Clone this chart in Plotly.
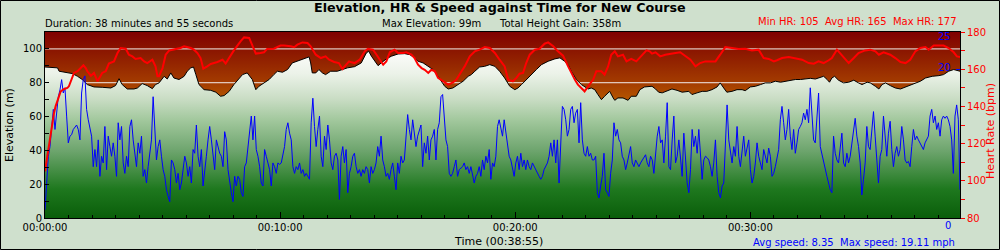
import numpy as np
import pandas as pd
import plotly.graph_objects as go

# ---------------- data ----------------
DURATION_S = 2335  # 00:38:55

ELEV_T = [0, 32, 36, 53, 70, 83, 95, 108, 125, 146, 168, 180, 189, 197, 210, 227, 236, 248, 261, 274,
          282, 291, 304, 312, 321, 329, 342, 355, 363, 372, 379, 385, 393, 406, 423, 436, 448, 457, 470, 482,
          495, 504, 516, 529, 538, 546, 559, 572, 584, 593, 606, 619, 631, 644, 661, 674, 678, 682, 691, 699,
          708, 716, 729, 746, 759, 772,
          790, 807, 820, 826, 833, 841, 850, 858, 871, 884, 901, 918, 931, 943, 952, 965, 978, 990, 1003, 1012,
          1020, 1029, 1041, 1054, 1067, 1080, 1088, 1097, 1109, 1122, 1135, 1148, 1160, 1173, 1186, 1199, 1207, 1216, 1228, 1241,
          1254, 1267, 1284, 1301, 1314, 1326, 1335, 1343, 1356, 1369, 1386, 1394, 1403, 1411, 1420, 1428, 1441, 1450, 1454, 1462,
          1475, 1488, 1496, 1509, 1518, 1530, 1543,
          1549, 1558, 1566, 1575, 1587, 1600, 1613, 1626, 1643, 1651, 1664, 1677, 1689, 1702, 1715, 1723, 1732, 1740, 1753, 1766,
          1779, 1787, 1800, 1813, 1826, 1838, 1851, 1864, 1877, 1889, 1902, 1915, 1928, 1940, 1953, 1966, 1979, 1987, 1996, 2002,
          2008, 2015, 2025, 2038, 2051, 2064, 2076, 2085, 2098, 2106, 2119, 2128, 2136, 2145, 2157, 2170, 2183, 2196, 2208, 2221,
          2234, 2247, 2264, 2281, 2293, 2306, 2319, 2335]
ELEV = [89.3, 88.8, 86.8, 86.2, 85.4, 83.8, 81.9, 78.9, 77.5, 77.3, 76.9, 78.3, 82.4, 78.9, 76.3, 76.3, 76.9, 79.5, 78.3, 76.5,
        78.9, 79.9, 83.8, 82.2, 85.8, 82.8, 81.9, 83.8, 86.8, 88.8, 89.3, 84.8, 78.9, 75.9, 75.5, 74.4, 72.0, 72.4, 74.9, 78.9,
        82.8, 84.8, 85.8, 81.9, 75.9, 77.9, 79.9, 81.9, 84.8, 86.8, 86.2, 87.8, 91.7, 92.7, 94.1, 95.3, 91.7, 85.8, 85.8, 87.8,
        85.8, 84.8, 86.8, 86.8, 87.8, 88.8,
        89.5, 91.7, 97.6, 98.6, 95.7, 92.7, 90.1, 91.7, 94.1, 95.7, 97.0, 97.2, 96.6, 94.7, 92.7, 91.7, 89.7, 87.8, 83.8, 80.9,
        77.9, 76.3, 76.9, 78.9, 80.9, 83.8, 84.8, 86.8, 89.3, 89.7, 90.7, 89.7, 86.8, 82.8, 77.9, 75.9, 76.9, 78.9, 81.9, 84.8,
        87.8, 90.7, 92.7, 94.1, 94.7, 92.7, 90.7, 86.8, 81.9, 78.9, 76.3, 76.9, 75.9, 73.0, 70.0, 72.0, 74.9, 71.0, 69.6, 71.0,
        71.0, 69.6, 72.0, 72.0, 75.9, 77.5, 77.9,
        77.9, 76.3, 74.4, 74.0, 74.9, 76.3, 75.5, 74.4, 74.9, 73.0, 74.0, 74.9, 74.9, 75.9, 77.5, 79.9, 76.9, 74.4, 74.9, 75.9,
        75.9, 75.3, 77.5, 77.9, 78.9, 79.9, 79.9, 80.9, 80.3, 80.9, 81.5, 81.9, 81.9, 82.2, 82.6, 82.2, 83.2, 83.8, 81.9, 80.3,
        82.8, 83.8, 81.5, 79.9, 80.3, 81.5, 79.9, 78.9, 80.3, 79.9, 77.9, 76.3, 78.9, 79.9, 78.3, 76.9, 76.3, 77.5, 78.9, 79.9,
        80.9, 82.8, 83.8, 84.2, 84.8, 86.8, 87.8, 86.8]

HR_T = [0, 2, 6, 10, 15, 19, 23, 27, 32, 36, 40, 49, 57, 61, 66, 70, 74, 83, 91, 98,
        104, 108, 117, 125, 134, 138, 146, 155, 163, 176, 185, 193, 206, 214, 223, 231, 244, 253, 261, 274,
        282, 287, 291, 300, 308, 317, 329, 346, 355, 372, 380, 389, 397, 404, 414, 423, 440, 453, 461, 470,
        482, 499, 508, 521, 529, 538, 550, 559, 567, 584, 601, 610, 627, 636, 644, 657, 670, 678, 691, 704,
        716, 725, 738, 750, 759, 767, 776,
        782, 790, 803, 816, 824, 837, 846, 854, 863, 871, 880, 892, 901, 914, 922, 935, 943, 952, 961, 969,
        978, 986, 995, 1003, 1016, 1029, 1041, 1050, 1063, 1071, 1084, 1097, 1109, 1122, 1135, 1148, 1160, 1173, 1182, 1194,
        1203, 1211, 1220, 1228, 1237, 1250, 1262, 1275, 1284, 1297, 1309, 1322, 1335, 1343, 1352, 1360, 1369, 1377, 1386, 1399,
        1407, 1420, 1428, 1437, 1445, 1454, 1462, 1475, 1484, 1496, 1509, 1522, 1535, 1543,
        1549, 1558, 1570, 1583, 1596, 1609, 1621, 1634, 1647, 1660, 1672, 1685, 1698, 1711, 1723, 1736, 1753, 1770, 1787, 1804,
        1821, 1834, 1847, 1860, 1868, 1881, 1898, 1915, 1932, 1949, 1962, 1974, 1987, 2000, 2008, 2021, 2030, 2038, 2051, 2064,
        2076, 2093, 2106, 2119, 2128, 2140, 2157, 2170, 2183, 2196, 2208, 2221, 2234, 2247, 2255, 2268, 2281, 2293, 2306, 2319,
        2327, 2335]
HR = [105.1, 107.8, 113.2, 120.3, 127.5, 132.9, 136.5, 140.0, 143.6, 146.3, 148.1, 149.4, 149.9, 150.8, 153.5, 156.2, 158.0, 158.9, 160.6, 162.1,
      160.6, 158.9, 156.5, 158.0, 153.5, 155.3, 158.0, 158.9, 163.0, 164.2, 168.7, 171.4, 171.0, 167.8, 166.9, 165.5, 166.0, 164.2, 163.3, 165.1,
      161.5, 156.2, 156.2, 160.6, 167.8, 170.1, 170.5, 171.4, 172.3, 171.4, 170.5, 168.7, 166.0, 160.3, 161.5, 162.8, 163.9, 165.1, 163.0, 166.0,
      170.1, 175.0, 177.1, 176.8, 172.3, 168.4, 168.7, 169.1, 170.9, 171.0, 172.7, 172.8, 172.3, 171.8, 173.2, 174.4, 174.1, 172.3, 167.8, 166.0,
      166.9, 165.1, 163.9, 163.3, 160.1, 161.9, 164.2,
      163.7, 163.3, 165.1, 169.6, 171.0, 170.5, 167.8, 165.1, 162.4, 164.2, 169.1, 170.5, 168.7, 168.7, 169.1, 167.8, 166.0, 162.4, 160.6, 159.7,
      158.0, 159.7, 158.9, 155.3, 153.5, 151.7, 152.9, 154.4, 158.9, 161.5, 166.9, 169.6, 170.5, 171.9, 171.4, 168.7, 165.1, 161.5, 154.4, 153.5,
      155.3, 157.6, 158.0, 163.3, 167.8, 170.5, 171.0, 173.7, 174.4, 172.3, 169.6, 167.3, 161.5, 158.0, 154.4, 151.7, 149.9, 148.1, 150.8, 154.4,
      158.9, 158.9, 157.1, 161.5, 167.8, 169.6, 166.9, 167.8, 164.2, 165.5, 164.2, 166.9, 170.1, 169.6,
      168.4, 169.1, 166.9, 167.8, 168.4, 168.7, 169.1, 166.9, 165.1, 161.5, 163.3, 164.2, 164.2, 164.2, 167.8, 171.9, 171.4, 170.9, 171.0, 170.1,
      170.5, 166.0, 165.5, 164.2, 164.8, 166.0, 166.6, 166.0, 165.1, 163.3, 163.0, 164.2, 163.3, 164.8, 166.0, 170.5, 168.4, 166.0, 163.3, 166.0,
      168.7, 170.1, 170.5, 169.6, 167.8, 169.1, 167.8, 166.0, 163.9, 163.3, 165.1, 169.6, 171.4, 171.9, 170.5, 172.7, 172.8, 172.7, 171.4, 169.1,
      166.9, 166.6]

# speed in mph, samples evenly spaced over the whole duration
SPEED = [
    1.1, 4.3, 8.3, 9.6, 11.9, 14.6, 11.9, 13.7, 16.3, 17.2,
    18.6, 16.8, 17.5, 13.7, 10.1, 11.0, 11.2, 11.9, 12.3, 12.5,
    11.9, 10.5, 16.8, 18.6, 19.1, 14.6, 13.2, 11.9, 11.0, 6.9,
    9.2, 6.9, 10.5, 5.6, 8.3, 7.4, 12.3, 6.5, 11.0, 9.6,
    8.3, 10.1, 8.3, 5.6, 12.8, 10.5, 12.3, 7.4, 6.0, 8.3,
    6.9, 12.3, 13.2, 10.5, 8.7, 6.9, 10.1, 8.7, 11.0, 5.6,
    6.5, 4.7, 6.9, 8.7, 10.5, 16.3, 11.9, 7.8, 9.6, 10.5,
    8.3, 6.5, 5.6, 3.8, 2.9, 2.2, 7.8, 7.4, 6.5, 4.7,
    6.0, 3.8, 4.7, 6.5, 8.3, 7.4, 5.6, 6.9, 4.7, 9.2,
    8.7, 12.5, 8.3, 6.9, 9.2, 4.3, 6.0, 8.3, 10.5, 12.3,
    10.5, 8.3, 6.5, 10.5, 9.6, 8.7, 8.3, 6.9, 11.6, 10.5,
    6.5, 4.7, 3.4, 2.2, 5.6, 4.3, 5.6, 5.2, 3.4, 2.9,
    6.9, 7.4, 9.6, 11.9, 13.7, 10.5, 13.7, 9.2, 8.3, 6.9,
    4.7, 4.3, 9.2, 8.3, 7.4, 6.5, 4.3, 7.4, 6.9, 6.0,
    7.4, 7.2, 7.4, 8.3, 9.6, 11.9, 12.8, 11.4, 10.5, 6.9,
    6.0, 6.9, 6.5, 7.4, 6.0, 6.5, 5.6, 6.0, 5.6, 5.2,
    12.8, 16.1, 12.3, 9.6, 11.9, 13.7, 8.3, 6.9, 11.0, 9.2,
    12.5, 10.5, 7.4, 6.5, 8.3, 8.7, 7.8, 2.5, 8.3, 9.6,
    7.4, 9.2, 3.4, 6.0,
    6.9, 8.3, 8.7, 6.9, 6.0, 6.5, 5.6, 6.5, 6.0, 6.9,
    6.5, 4.7, 6.9, 6.0, 6.5, 7.4, 9.6, 8.3, 11.0, 7.8,
    6.9, 5.6, 6.0, 5.2, 6.5, 7.4, 5.6, 3.8, 7.4, 6.0,
    8.3, 7.4, 7.8, 10.5, 13.9, 11.9, 10.5, 13.2, 11.0, 9.6,
    11.0, 11.9, 12.5, 6.9, 10.1, 8.7, 11.0, 7.8, 10.5, 11.0,
    11.9, 7.8, 11.9, 12.8, 16.3, 16.6, 13.2, 10.5, 9.6, 6.0,
    5.6, 6.0, 6.9, 7.8, 5.6, 6.5, 6.7, 6.9, 7.4, 6.5,
    6.9, 6.0, 6.9, 6.0, 4.7, 5.6, 6.0, 6.9, 5.6, 7.8,
    6.5, 8.3, 7.4, 9.2, 5.2, 7.4, 6.9, 8.3, 12.3, 13.2,
    11.9, 11.0, 13.2, 11.4, 9.6, 8.3, 7.8, 6.9, 5.6, 7.4,
    8.3, 6.5, 8.7, 6.9, 7.8, 6.5, 7.8, 6.9, 6.5, 7.4,
    6.9, 6.5, 6.0, 5.6, 5.2, 5.6, 6.5, 6.9, 7.4, 8.3,
    10.1, 8.3, 10.5, 7.4, 10.5, 4.7, 11.0, 15.0, 14.6, 13.2,
    11.0, 11.9, 14.6, 15.0, 12.8, 14.1, 14.6, 10.1, 15.5, 10.5,
    8.7, 8.3, 9.6, 8.3, 8.7, 7.8, 7.8, 8.3, 3.4, 2.7,
    4.3, 5.6, 8.7, 3.8, 3.4, 2.9, 6.0, 7.8, 12.8, 11.0,
    11.9, 10.5, 10.1, 8.3, 7.8, 6.5, 7.4, 8.3, 9.6, 7.4,
    6.9, 7.8, 7.4, 6.9, 7.4, 7.8, 8.3, 8.5, 7.4, 6.9,
    8.3, 7.8, 6.0,
    9.2, 11.0, 12.3, 10.1, 10.5, 7.4, 11.0, 15.5, 6.9, 6.5,
    10.5, 13.7, 7.4, 8.3, 10.5, 8.3, 5.6, 11.4, 8.3, 4.7,
    3.4, 6.5, 11.9, 9.6, 11.0, 8.7, 11.9, 8.3, 5.2, 7.8,
    8.3, 8.1, 7.8, 6.9, 5.6, 7.4, 10.5, 5.6, 3.4, 2.7,
    4.3, 4.7, 10.5, 15.2, 10.5, 8.7, 7.4, 9.6, 8.3, 12.3,
    8.3, 6.9, 9.2, 11.0, 8.3, 9.6, 10.5, 6.5, 4.7, 5.6,
    7.4, 10.1, 8.3, 7.4, 6.5, 9.2, 8.3, 7.4, 9.4, 8.3,
    5.6, 6.0, 6.9, 8.3, 9.2, 13.2, 15.0, 12.8, 10.5, 11.9,
    14.6, 11.0, 9.2, 11.9, 8.7, 10.1, 11.9, 12.3, 12.8, 14.1,
    13.2, 14.6, 12.8, 17.5, 14.6, 10.5, 10.1, 13.7, 16.8, 9.6,
    8.7, 7.4, 6.5, 5.6, 4.7, 3.8, 3.4, 11.0, 8.7, 7.8,
    7.4, 9.6, 11.4, 7.4, 6.9, 8.7, 7.4, 8.3, 10.1, 11.9,
    13.4, 11.0, 9.6, 7.4, 3.1, 5.2, 7.4, 12.3, 9.6, 9.2,
    12.3, 14.3, 11.0, 7.4, 4.7, 8.3, 9.2, 13.7, 10.5, 8.3,
    11.4, 13.0, 9.2, 6.9, 8.7, 9.6, 8.3, 9.2, 12.3, 10.5,
    7.8, 7.4, 7.6, 6.9, 9.6, 11.9, 10.5, 11.0, 10.5, 10.1,
    9.6, 9.2, 10.1, 10.5, 11.0, 13.7, 14.6, 12.8, 13.7, 11.9,
    12.8, 11.0, 13.2, 13.7, 13.4, 13.7, 13.2, 12.3, 10.5, 6.0,
    13.7, 15.2, 13.2, 3.8,
]
SPEED_INTERVAL_S = DURATION_S / (len(SPEED) - 1)

ELEV_RANGE = [0, 110]
HR_RANGE = [80, 180]
SPEED_RANGE = [0, 25]
ELEV_TICKS = [0, 20, 40, 60, 80, 100]
SPEED_TICKS = [0, 20, 25]

TITLE = "Elevation, HR & Speed against Time for New Course"
DURATION_TXT = "Duration: 38 minutes and 55 seconds"
MAXELEV_TXT = "Max Elevation: 99m"
GAIN_TXT = "Total Height Gain: 358m"
HR_TXT = "Min HR: 105\u00a0\u00a0Avg HR: 165\u00a0\u00a0Max HR: 177"
SPEED_TXT = "Avg speed: 8.35\u00a0\u00a0Max speed: 19.11 mph"
XTITLE = "Time (00:38:55)"

# ---------------- styling ----------------
FONT = "DejaVu Sans"
BG = "#cfe0cd"
BROWN_SCALE = [[0.0, "#c87000"], [0.636, "#b45500"], [0.727, "#a43c00"],
               [0.818, "#962800"], [0.909, "#8a1400"], [1.0, "#800000"]]
GREEN_SCALE = [[0.0, "#0a5e0a"], [0.17, "#1e781e"], [0.4, "#6ea56e"], [0.58, "#a2c89d"],
               [0.7, "#c8dcc3"], [0.85, "#ebf2e8"], [0.95, "#f8faf6"], [1.0, "#ffffff"]]

W, H = 1000, 250
ML, MR, MT, MB = 45, 40, 32, 32
PW, PH = W - ML - MR, H - MT - MB

T0 = pd.Timestamp("1970-01-01")


def ts(seconds):
    return T0 + pd.to_timedelta(np.asarray(seconds, dtype=float), unit="s")


def px(x):
    return (x - ML) / PW


def py(y):
    return (H - MB - y) / PH


span = ts([0, DURATION_S])
speed_t = ts(np.arange(len(SPEED)) * SPEED_INTERVAL_S)

fig = go.Figure()

# brown sky (area above the profile)
fig.add_trace(go.Scatter(
    x=span, y=[ELEV_RANGE[1]] * 2, mode="lines", line=dict(width=0),
    fill="tozeroy", fillgradient=dict(type="vertical", colorscale=BROWN_SCALE,
                                      start=ELEV_RANGE[0], stop=ELEV_RANGE[1]),
    hoverinfo="skip", showlegend=False))

# grid lines (only visible above the elevation fill)
for v in ELEV_TICKS[1:]:
    fig.add_trace(go.Scatter(x=span, y=[v, v], mode="lines",
                             line=dict(color="#f2eeec", width=1),
                             hoverinfo="skip", showlegend=False))

# elevation
fig.add_trace(go.Scatter(
    x=ts(ELEV_T), y=ELEV, mode="lines", line=dict(color="black", width=1),
    fill="tozeroy", fillgradient=dict(type="vertical", colorscale=GREEN_SCALE, start=0, stop=100),
    showlegend=False))

# speed
fig.add_trace(go.Scatter(x=speed_t, y=SPEED, mode="lines", yaxis="y2",
                         line=dict(color="#0000ff", width=1), showlegend=False))

# heart rate
fig.add_trace(go.Scatter(x=ts(HR_T), y=HR, mode="lines", yaxis="y3",
                         line=dict(color="#ff0000", width=2), showlegend=False))

tickfont = dict(family=FONT, size=10, color="black")

fig.update_layout(
    width=W, height=H,
    margin=dict(l=ML, r=MR, t=MT, b=MB, pad=0),
    paper_bgcolor=BG, plot_bgcolor=BG,
    font=dict(family=FONT, size=10, color="black"),
    xaxis=dict(type="date", range=[span[0], span[1]], tickmode="linear", tick0=span[0],
               dtick=600000, tickformat="%H:%M:%S", ticks="inside", ticklen=6,
               tickcolor="black", showline=True, linecolor="black", linewidth=1, mirror=True,
               showgrid=False, zeroline=False, tickfont=tickfont,
               minor=dict(dtick=60000, ticks="inside", ticklen=3, tickcolor="black", showgrid=False)),
    yaxis=dict(range=ELEV_RANGE, tickmode="array", tickvals=ELEV_TICKS, ticks="inside",
               ticklen=4, tickcolor="black", showline=True, linecolor="black", linewidth=1,
               mirror=True, showgrid=False, zeroline=False, tickfont=tickfont,
               minor=dict(dtick=10, tick0=0, ticks="inside", ticklen=4, tickcolor="black", showgrid=False)),
    yaxis2=dict(overlaying="y", side="right", anchor="x", range=SPEED_RANGE,
                tickmode="array", tickvals=SPEED_TICKS, ticks="inside", ticklen=4,
                tickcolor="#0000ff", showticklabels=False, showgrid=False,
                zeroline=False, showline=False),
    yaxis3=dict(overlaying="y", side="right", anchor="x", range=HR_RANGE,
                tickmode="linear", tick0=80, dtick=20, ticks="outside", ticklen=4,
                tickcolor="#ff0000", showgrid=False, zeroline=False, showline=False,
                tickfont=dict(family=FONT, size=10, color="#ff0000"),
                minor=dict(dtick=10, ticks="outside", ticklen=4, tickcolor="#ff0000", showgrid=False)),
)

ann = [
    dict(text=f"<b>{TITLE}</b>", x=px(500), y=py(8), xanchor="center", yanchor="middle",
         font=dict(family=FONT, size=12.7, color="black")),
    dict(text=DURATION_TXT, x=px(43), y=py(23.5), xanchor="left", yanchor="middle",
         font=dict(family=FONT, size=10, color="black")),
    dict(text=MAXELEV_TXT, x=px(380), y=py(23.5), xanchor="left", yanchor="middle",
         font=dict(family=FONT, size=10, color="black")),
    dict(text=GAIN_TXT, x=px(497), y=py(23.5), xanchor="left", yanchor="middle",
         font=dict(family=FONT, size=10, color="black")),
    dict(text=HR_TXT, x=px(959), y=py(21.5), xanchor="right", yanchor="middle",
         font=dict(family=FONT, size=10, color="#ff0000")),
    dict(text=XTITLE, x=px(498), y=py(241.5), xanchor="center", yanchor="middle",
         font=dict(family=FONT, size=11, color="black")),
    dict(text=SPEED_TXT, x=px(957), y=py(243), xanchor="right", yanchor="middle",
         font=dict(family=FONT, size=10, color="#0000ff")),
    dict(text="Elevation (m)", x=px(9), y=py(125), xanchor="center", yanchor="middle",
         textangle=-90, font=dict(family=FONT, size=11, color="black")),
    dict(text="Heart Rate (bpm)", x=px(990), y=py(131), xanchor="center", yanchor="middle",
         textangle=-90, font=dict(family=FONT, size=11, color="#ff0000")),
]
for a in ann:
    a.update(xref="paper", yref="paper", showarrow=False)

# speed axis labels, drawn just inside the right edge of the plot
for v in SPEED_TICKS:
    if v == SPEED_RANGE[1]:
        anchor, shift = "top", 3
    elif v == SPEED_RANGE[0]:
        anchor, shift = "top", 0
    else:
        anchor, shift = "middle", 2
    ann.append(dict(text=str(v), xref="paper", yref="y2", x=px(953), y=v,
                    xanchor="right", yanchor=anchor, yshift=shift, showarrow=False,
                    font=dict(family=FONT, size=10, color="#0000ff")))
fig.update_layout(annotations=ann)

# outer frame of the picture
fig.add_shape(type="rect", xref="paper", yref="paper",
              x0=px(0.5), x1=px(W - 0.5), y0=py(H - 0.5), y1=py(0.5),
              line=dict(color="black", width=1), layer="above")

fig.write_html("out.html")
